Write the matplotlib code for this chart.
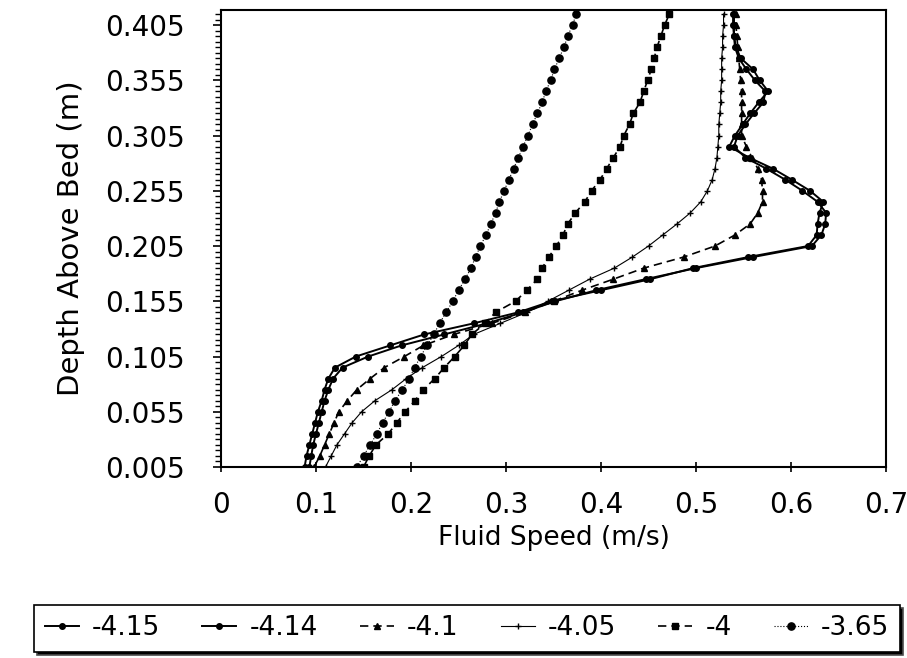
import matplotlib
matplotlib.use("Agg")
import matplotlib.pyplot as plt
from matplotlib.ticker import MultipleLocator, FixedLocator

plt.rcParams['font.family'] = ['DejaVu Sans']

# depth above bed (m), one reading every 0.01 m
depth = [0.005, 0.015, 0.025, 0.035, 0.045, 0.055, 0.065, 0.075, 0.085, 0.095,
         0.105, 0.115, 0.125, 0.135, 0.145, 0.155, 0.165, 0.175, 0.185, 0.195,
         0.205, 0.215, 0.225, 0.235, 0.245, 0.255, 0.265, 0.275, 0.285, 0.295,
         0.305, 0.315, 0.325, 0.335, 0.345, 0.355, 0.365, 0.375, 0.385, 0.395,
         0.405, 0.415]

# fluid speed (m/s) for each time
u_415 = [0.088, 0.090, 0.093, 0.096, 0.099, 0.102, 0.106, 0.109, 0.113, 0.120,
         0.142, 0.178, 0.214, 0.266, 0.313, 0.348, 0.400, 0.452, 0.497, 0.555,
         0.618, 0.627, 0.628, 0.630, 0.634, 0.620, 0.601, 0.581, 0.556, 0.535,
         0.541, 0.549, 0.557, 0.566, 0.576, 0.567, 0.560, 0.547, 0.542, 0.540,
         0.540, 0.540]
u_414 = [0.093, 0.095, 0.097, 0.100, 0.103, 0.106, 0.109, 0.113, 0.118, 0.128,
         0.155, 0.190, 0.235, 0.280, 0.318, 0.352, 0.395, 0.447, 0.500, 0.560,
         0.622, 0.632, 0.636, 0.637, 0.628, 0.612, 0.594, 0.574, 0.552, 0.540,
         0.544, 0.552, 0.561, 0.571, 0.573, 0.562, 0.553, 0.545, 0.541, 0.540,
         0.539, 0.539]
u_410 = [0.098, 0.104, 0.109, 0.114, 0.119, 0.124, 0.133, 0.143, 0.157, 0.172,
         0.193, 0.213, 0.245, 0.285, 0.320, 0.350, 0.380, 0.413, 0.445, 0.487,
         0.520, 0.541, 0.557, 0.565, 0.570, 0.570, 0.569, 0.565, 0.559, 0.553,
         0.548, 0.548, 0.548, 0.548, 0.548, 0.547, 0.546, 0.545, 0.544, 0.543,
         0.542, 0.542]
u_405 = [0.110, 0.116, 0.122, 0.130, 0.138, 0.148, 0.162, 0.180, 0.195, 0.212,
         0.232, 0.250, 0.266, 0.294, 0.322, 0.344, 0.366, 0.388, 0.414, 0.433,
         0.450, 0.465, 0.480, 0.494, 0.505, 0.512, 0.517, 0.520, 0.522, 0.523,
         0.524, 0.524, 0.525, 0.526, 0.526, 0.527, 0.527, 0.527, 0.528, 0.528,
         0.529, 0.529]
u_400 = [0.150, 0.156, 0.163, 0.176, 0.185, 0.194, 0.204, 0.213, 0.225, 0.235,
         0.246, 0.256, 0.264, 0.278, 0.289, 0.310, 0.322, 0.333, 0.338, 0.345,
         0.353, 0.360, 0.365, 0.373, 0.383, 0.390, 0.399, 0.406, 0.413, 0.420,
         0.424, 0.430, 0.434, 0.441, 0.445, 0.449, 0.453, 0.456, 0.459, 0.463,
         0.467, 0.472]
u_365 = [0.143, 0.150, 0.157, 0.164, 0.170, 0.177, 0.183, 0.191, 0.198, 0.204,
         0.210, 0.217, 0.224, 0.230, 0.237, 0.244, 0.250, 0.257, 0.263, 0.268,
         0.273, 0.279, 0.284, 0.289, 0.293, 0.298, 0.303, 0.308, 0.313, 0.318,
         0.323, 0.328, 0.333, 0.338, 0.342, 0.347, 0.351, 0.356, 0.361, 0.365,
         0.370, 0.374]

labels = ['-4.15', '-4.14', '-4.1', '-4.05', '-4', '-3.65']
series = [u_415, u_414, u_410, u_405, u_400, u_365]
styles = [
    dict(ls='-', lw=1.4, marker='o', ms=4),
    dict(ls='-', lw=1.4, marker='o', ms=4),
    dict(ls=(0, (5, 3)), lw=1.2, marker='^', ms=4),
    dict(ls='-', lw=0.8, marker='+', ms=4.5, mew=1.0),
    dict(ls=(0, (5, 3)), lw=1.2, marker='s', ms=4),
    dict(ls=':', lw=0.8, marker='o', ms=5.2),
]

yticks = [0.005, 0.055, 0.105, 0.155, 0.205, 0.255, 0.305, 0.355, 0.405]
xticks = [0, 0.1, 0.2, 0.3, 0.4, 0.5, 0.6, 0.7]

fig = plt.figure(figsize=(9.07, 6.58), dpi=100)
ax = fig.add_axes([221/907, 1-467/658, (886-221)/907, (467-10)/658])

for u, lab, st in zip(series, labels, styles):
    ax.plot(u, depth, color='black', label=lab, **st)

ax.set_xlim(0, 0.7)
ax.set_ylim(0.005, 0.4186)
ax.xaxis.set_major_locator(FixedLocator(xticks))
ax.set_xticklabels(['0', '0.1', '0.2', '0.3', '0.4', '0.5', '0.6', '0.7'])
ax.yaxis.set_major_locator(FixedLocator(yticks))
ax.set_yticklabels(['%.3f' % v for v in yticks])
ax.yaxis.set_minor_locator(MultipleLocator(0.005))
ax.tick_params(axis='y', which='major', direction='out', length=6, width=1.2,
               labelsize=20, pad=20)
ax.tick_params(axis='y', which='minor', direction='out', length=4, width=1.0)
ax.tick_params(axis='x', which='major', direction='inout', length=7, width=1.2,
               labelsize=20, pad=14)
for s in ax.spines.values():
    s.set_linewidth(1.5)

ax.set_xlabel('Fluid Speed (m/s)', fontsize=19, labelpad=4)
ax.set_ylabel('Depth Above Bed (m)', fontsize=21)
ax.yaxis.set_label_coords(-0.205, 0.5)

leg = fig.legend(loc='lower left', bbox_to_anchor=(34/907, 6/658, (900-34)/907, 55/658),
                 mode='expand', ncol=6, fontsize=19, frameon=True, fancybox=False,
                 handlelength=1.3, handletextpad=0.5, columnspacing=0.6,
                 borderaxespad=0, shadow={'facecolor': 'black', 'alpha': 1.0})
leg.get_frame().set_edgecolor('black')
leg.get_frame().set_linewidth(1.2)

fig.savefig('out.png', dpi=100)
